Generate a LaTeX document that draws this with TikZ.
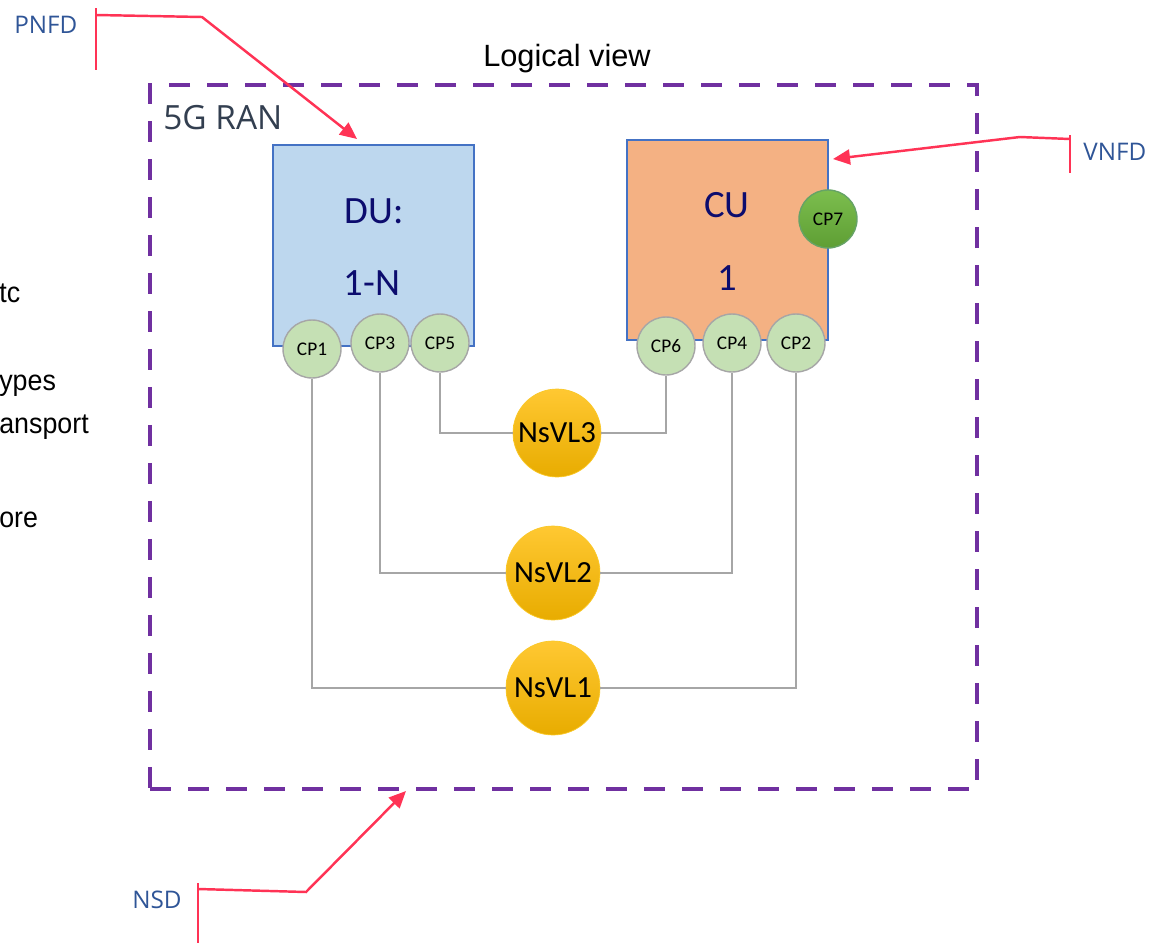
\documentclass[tikz,border=0pt]{standalone}
\usepackage{fontspec}
\setmainfont{Carlito}
\newfontfamily\segoe{Open Sans}
\newfontfamily\arial{Liberation Sans}
\newfontfamily\arialnarrow[FakeStretch=0.93]{Liberation Sans}
\usetikzlibrary{arrows.meta}

\definecolor{ranpurple}{RGB}{112,48,160}
\definecolor{dufill}{RGB}{189,215,238}
\definecolor{cufill}{RGB}{244,177,131}
\definecolor{boxedge}{RGB}{68,114,196}
\definecolor{cpfill}{RGB}{197,224,180}
\definecolor{cpedge}{RGB}{166,166,166}
\definecolor{navytext}{RGB}{12,12,110}
\definecolor{slatetext}{RGB}{51,63,80}
\definecolor{tagblue}{RGB}{47,85,151}
\definecolor{calloutred}{RGB}{255,51,85}
\definecolor{linkgray}{RGB}{166,166,166}

\tikzset{
    ranbox/.style={draw=ranpurple, line width=2.3pt, dash pattern=on 0.42cm off 0.34cm},
    vnfbox/.style={draw=boxedge, line width=0.6pt, minimum width=4.02cm, minimum height=4.02cm},
    bigtext/.style={text=navytext, font=\fontsize{22}{26}\selectfont, anchor=base, inner sep=0pt},
    cp/.style={circle, draw=cpedge, line width=0.8pt, fill=cpfill, minimum size=1.16cm, inner sep=0pt, font=\fontsize{11}{13}\selectfont},
    cpmgmt/.style={cp, draw=green!40!black!60, top color={rgb,255:red,124;green,190;blue,78}, bottom color={rgb,255:red,94;green,158;blue,52}},
    vl/.style={circle, draw={rgb,255:red,250;green,200;blue,40}, top color={rgb,255:red,255;green,200;blue,50}, bottom color={rgb,255:red,232;green,172;blue,0}, inner sep=0pt, font=\fontsize{17.5}{20}\selectfont},
    link/.style={draw=linkgray, line width=1.1pt},
    callout/.style={draw=calloutred, line width=1.4pt},
    tag/.style={text=tagblue, font=\segoe\fontsize{13.8}{16}\selectfont, anchor=base west, inner sep=0pt},
    cuttext/.style={font=\arialnarrow\fontsize{16.4}{19}\selectfont, anchor=base west, inner sep=0pt}
}

\begin{document}
\begin{tikzpicture}[x=0.02cm, y=-0.02cm]
    \useasboundingbox (0,0) rectangle (1153,943);

    \node[cuttext] (frag1) at (-1,302) {tc};
    \node[cuttext] (frag2) at (-1,390) {ypes};
    \node[cuttext] (frag3) at (-1,433) {ansport};
    \node[cuttext] (frag4) at (-1,527) {ore};

    \node[font=\arial\fontsize{17.5}{20}\selectfont, anchor=base, inner sep=0pt] (title) at (567,66) {Logical view};
    \node[ranbox, minimum width=16.54cm, minimum height=14.08cm] (ran) at (563.5,437) {};
    \node[text=slatetext, font=\segoe\fontsize{19}{22}\selectfont, anchor=base west, inner sep=0pt] (ranlabel) at (163,129) {5G RAN};

    \node[vnfbox, fill=dufill] (du) at (373.5,245.5) {};
    \node[bigtext] (dutext) at (374,223) {DU:};
    \node[bigtext] (ducount) at (372,295) {1-N};

    \node[vnfbox, fill=cufill, minimum height=4cm] (cu) at (727.5,240) {};
    \node[bigtext] (cutext) at (727,217) {CU};
    \node[bigtext] (cucount) at (727,290) {1};

    \node[cp] (cp1) at (312,349) {CP1};
    \node[cp] (cp3) at (380,343) {CP3};
    \node[cp] (cp5) at (440,343) {CP5};
    \node[cp] (cp6) at (666,346) {CP6};
    \node[cp] (cp4) at (732,343) {CP4};
    \node[cp] (cp2) at (796,343) {CP2};
    \node[cpmgmt] (cp7) at (828,219) {CP7};

    \node[vl, minimum size=1.76cm] (vl3) at (557,433) {NsVL3};
    \node[vl, minimum size=1.88cm] (vl2) at (553,573) {NsVL2};
    \node[vl, minimum size=1.88cm] (vl1) at (553,688) {NsVL1};

    \draw[link] (cp5) |- (vl3);
    \draw[link] (vl3) -| (cp6);
    \draw[link] (cp3) |- (vl2);
    \draw[link] (vl2) -| (cp4);
    \draw[link] (cp1) |- (vl1);
    \draw[link] (vl1) -| (cp2);

    \node[tag] (pnfd) at (14,33) {PNFD};
    \coordinate (pnfd bar top) at (96,8);
    \coordinate (pnfd bar bot) at (96,70);
    \coordinate (pnfd start) at (96,15);
    \coordinate (pnfd knee) at (202,17);
    \coordinate (pnfd tip) at (357,139);
    \draw[callout] (pnfd bar top) -- (pnfd bar bot);
    \draw[callout, -{Triangle[length=0.34cm, width=0.3cm]}] (pnfd start) -- (pnfd knee) -- (pnfd tip);

    \node[tag] (vnfd) at (1083,160) {VNFD};
    \coordinate (vnfd bar top) at (1070,135);
    \coordinate (vnfd bar bot) at (1070,173);
    \coordinate (vnfd start) at (1070,139);
    \coordinate (vnfd knee) at (1020,137);
    \coordinate (vnfd tip) at (833,159);
    \draw[callout] (vnfd bar top) -- (vnfd bar bot);
    \draw[callout, -{Triangle[length=0.34cm, width=0.3cm]}] (vnfd start) -- (vnfd knee) -- (vnfd tip);

    \node[tag] (nsd) at (132,908) {NSD};
    \coordinate (nsd bar top) at (198,883);
    \coordinate (nsd bar bot) at (198,943);
    \coordinate (nsd start) at (198,889);
    \coordinate (nsd knee) at (306,892);
    \coordinate (nsd tip) at (406,791);
    \draw[callout] (nsd bar top) -- (nsd bar bot);
    \draw[callout, -{Triangle[length=0.34cm, width=0.3cm]}] (nsd start) -- (nsd knee) -- (nsd tip);

\end{tikzpicture}
\end{document}
